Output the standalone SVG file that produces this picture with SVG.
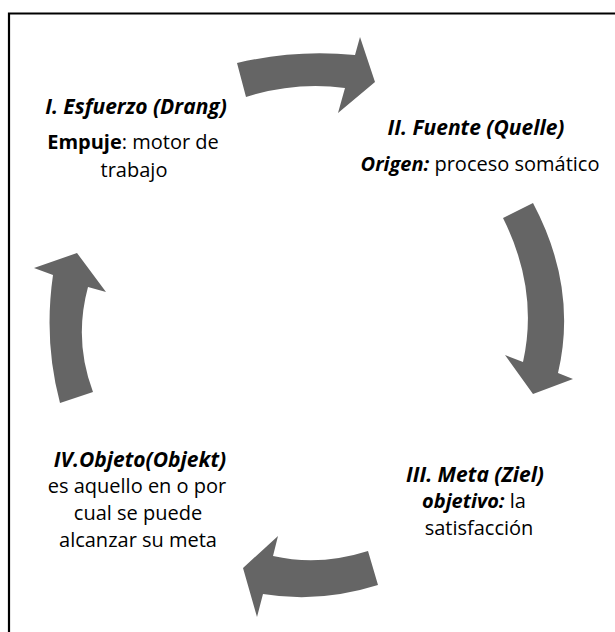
<svg xmlns="http://www.w3.org/2000/svg" width="615" height="632" viewBox="0 0 615 632">
<style>
.arr{fill:#656565}
text{font-family:"Open Sans","Liberation Sans",sans-serif;font-size:20px;fill:#000;text-anchor:middle}
.t{font-weight:bold;font-style:italic;font-size:21px}
.b{font-weight:bold}
.bi{font-weight:bold;font-style:italic}
</style>
<rect width="615" height="632" fill="#fff"/>
<path d="M9,640 V13.5 H615" fill="none" stroke="#000" stroke-width="2.2"/>
<g id="connectors">
<path class="arr" d="M237,63 Q296,49 355,55 L360,37 L375,82 L338,113 L345,88 Q295,81.5 246,97 Z"/>
<path class="arr" d="M533,203 Q578,288 558,373 L573,379 L533,394 L505,355 L523,362 Q539,290 503,218 Z"/>
<path class="arr" d="M368,551 Q319.5,566.5 273,556 L278,536 L243,568 L257,617 L263,594 Q319.5,603.5 378,585 Z"/>
<path class="arr" d="M60,403 Q43.5,341 53,275 L34,268 L77,253 L106,292 L88,287 Q73.5,340.5 93,392 Z"/>
</g>
<g id="node-1">
<text x="136" y="114" class="t">I. Esfuerzo (Drang)</text>
<text x="133" y="149"><tspan class="b">Empuje</tspan>: motor de</text>
<text x="134" y="177">trabajo</text>
</g>
<g id="node-2">
<text x="476" y="135" class="t">II. Fuente (Quelle)</text>
<text x="480" y="171"><tspan class="bi">Origen:</tspan> proceso somático</text>
</g>
<g id="node-3">
<text x="475" y="482" class="t">III. Meta (Ziel)</text>
<text x="474" y="508"><tspan class="bi">objetivo:</tspan> la</text>
<text x="479" y="535">satisfacción</text>
</g>
<g id="node-4">
<text x="140" y="467" class="t">IV.Objeto(Objekt)</text>
<text x="137" y="493">es aquello en o por</text>
<text x="138" y="520">cual se puede</text>
<text x="138" y="547">alcanzar su meta</text>
</g>
</svg>
